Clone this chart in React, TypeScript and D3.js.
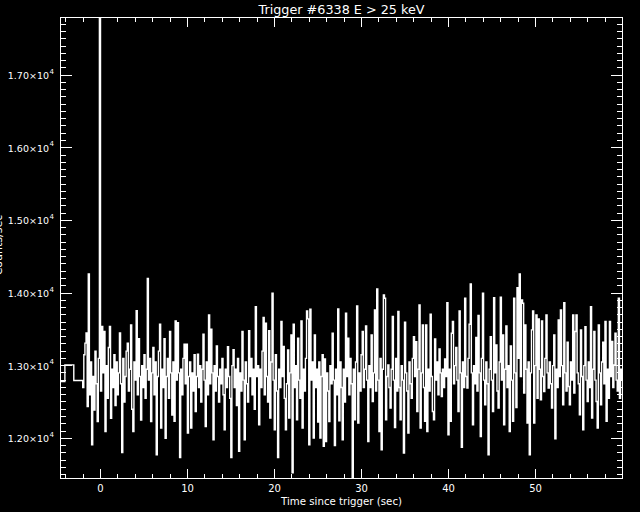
import React from "react";
import * as d3 from "d3";

const titleText = "Trigger #6338 E > 25 keV";
const xTitle = "Time since trigger (sec)";
const yTitle = "Counts/sec";

const coarseStart = [-5.12, -4.096, -3.072];
const coarseRate = [12780, 13010, 12795];
const fineStart = -2.048;
const fineWidth = 0.128;

const fineRateA = [
  12700,13150,13310,13450,12437,14263,12600,13050,11910,12850,
  12390,13200,12750,12230,13100,17794,12650,13540,12900,13470,
  12094,13000,12550,13250,13540,12275,12950,12700,13150,12450,
  13050,12600,12900,13450,12750,11805,13100,12500,12850,13200,
  13310,12650,12950,13560,12400,12094,13050,12800,13758,12600,
  13370,12850,12250,13000,12700,13150,12550,12950,14200,12800,
  13100,12230,12900,13250,12600,13050,11773,12850,13200,13570,
  12140,12950,12700,13370,12000,12850,13100,12550,13470,12900,
  12320,13050,12232,13616,
];
const fineRateB = [
  12800,13593,12900,11736,12950,12600,13100,13295,12750,13295,
  12071,12850,13050,12140,12900,12650,13150,12369,12850,13158,
  12700,13000,12500,12950,13433,12800,12163,13050,12600,13699,
  12750,13502,12900,11980,13000,12650,13272,12850,12500,12950,
  12750,13100,12600,12117,12950,12700,13260,12850,12550,11736,
  13000,13220,12700,12950,12450,13100,11819,12900,12650,13470,
  12800,11980,13050,12750,12500,13480,12850,13100,12600,12950,
  12400,13813,12850,13000,12185,12950,12700,13200,13662,12600,
  13584,12850,12500,13480,12277,13050,13997,12800,12117,13150,
  12650,11736,12950,12700,13607,12850,13263,12550,12117,12750,
];
const fineRateC = [
  13217,12277,12900,13424,11525,13570,12700,13000,12255,13378,
  12800,12550,13616,12140,12950,12650,13100,13754,13644,11910,
  13777,12800,13050,12002,13424,12700,12950,12222,13050,12002,
  12850,13150,11888,13093,11956,12900,12650,12231,13000,12750,
  13447,12800,11900,12950,12600,13781,12240,13050,12700,11980,
  12950,12500,13722,12850,13378,12600,13100,12750,11446,12950,
  12255,13050,13822,12209,12900,12650,13150,13470,12700,12950,
  13547,12800,11956,13000,12700,13424,12507,12900,13768,12650,
  14056,12800,12094,13100,11841,12950,13974,13928,12255,12850,
  13011,12700,12415,12950,13676,12800,12149,13100,12650,13745,
];
const fineRateD = [
  12700,12255,13000,12800,11796,13598,12900,12650,12071,13050,
  12750,12552,13100,13400,12850,13331,12369,12950,13836,12140,
  12900,13561,12700,12232,13561,12094,12950,12650,13708,12850,
  12369,12255,13369,12800,13050,12600,13231,12900,12575,12950,
  12700,13093,12850,13868,12048,12950,12232,13446,13607,12750,
  13000,13249,12800,12369,13754,12900,11874,13050,12700,13928,
  12850,12690,13100,13570,14125,12900,12186,13000,12750,13387,
  12650,13690,12900,12025,13100,13997,12800,12460,13050,12750,
  11773,12950,13400,12800,12369,13937,12900,13286,12650,12415,
  13050,13941,12800,13424,12186,12950,13547,12700,13000,12094,
];
const fineRateE = [
  13272,12800,12232,13928,12900,12424,14075,13100,14263,12850,
  13905,13859,12621,13561,12950,12209,13050,11773,12900,13492,
  13754,12209,13000,13699,12552,13644,12950,12529,13616,12850,
  12644,13100,13699,12900,12690,13050,12750,12415,13000,13424,
  11993,12950,12700,13630,12850,13768,13000,12460,13868,12900,
  12650,13322,12713,12460,13050,12800,13699,12621,13470,13699,
  12900,12750,12323,13492,12850,12117,13000,13538,12800,12507,
  13050,12700,13813,12277,12950,13470,12800,12507,12140,13561,
  12900,12460,13050,13322,12750,13607,12232,12950,12552,13607,
  12850,13332,12700,13011,13446,12800,12650,13928,12552,12950,
  12800,
];

const xDomain = [-4.6, 60.0];
const yDomain = [11446, 17794];
const xMajorTicks = [0, 10, 20, 30, 40, 50];
const xTickLabels = ["0", "10", "20", "30", "40", "50"];
const yMajorTicks = [12000, 13000, 14000, 15000, 16000, 17000];
const yTickLabels = ["1.20", "1.30", "1.40", "1.50", "1.60", "1.70"];

const W = 640, H = 512;
const L = 60.5, R = 622.5, T = 17.5, B = 478.5;

export default function App() {
  const x = d3.scaleLinear().domain(xDomain).range([L, R]);
  const y = d3.scaleLinear().domain(yDomain).range([B, T]);

  const fine = [...fineRateA, ...fineRateB, ...fineRateC, ...fineRateD, ...fineRateE];
  const pts: { t: number; v: number }[] = [];
  coarseStart.forEach((t, i) => pts.push({ t, v: coarseRate[i] }));
  fine.forEach((v, i) => pts.push({ t: fineStart + i * fineWidth, v }));
  pts.push({ t: fineStart + fine.length * fineWidth, v: fine[fine.length - 1] });

  const line = d3
    .line<{ t: number; v: number }>()
    .x((d) => x(d.t))
    .y((d) => y(d.v))
    .curve(d3.curveStepAfter);

  const xMinor = d3.range(-4, 61, 2).filter((t) => t % 10 !== 0 && x(t) > L + 0.5 && x(t) < R - 0.5);
  const yMinor = d3.range(11500, 17800, 100).filter((v) => v % 1000 !== 0);

  const xMaj = 9.2, xMin = 4.6, yMaj = 11.2, yMin = 5.6;
  const font = "'DejaVu Sans', 'Liberation Sans', sans-serif";

  return (
    <svg
      width={W}
      height={H}
      style={{ position: "absolute", left: 0, top: 0, background: "#000" }}
    >
      <rect x={0} y={0} width={W} height={H} fill="#000" />
      <defs>
        <clipPath id="plotclip">
          <rect x={L} y={T - 0.5} width={R - L} height={B - T + 1} />
        </clipPath>
      </defs>
      <g clipPath="url(#plotclip)">
        <path d={line(pts) || ""} fill="none" stroke="#fff" strokeWidth={1.4} strokeLinejoin="miter" />
      </g>
      <g stroke="#fff" strokeWidth={1} shapeRendering="crispEdges">
        <rect x={L} y={T} width={R - L} height={B - T} fill="none" />
        {xMajorTicks.map((t) => (
          <g key={"xm" + t}>
            <line x1={x(t)} x2={x(t)} y1={B} y2={B - xMaj} />
            <line x1={x(t)} x2={x(t)} y1={T} y2={T + xMaj} />
          </g>
        ))}
        {xMinor.map((t) => (
          <g key={"xn" + t}>
            <line x1={x(t)} x2={x(t)} y1={B} y2={B - xMin} />
            <line x1={x(t)} x2={x(t)} y1={T} y2={T + xMin} />
          </g>
        ))}
        {yMajorTicks.map((v) => (
          <g key={"ym" + v}>
            <line x1={L} x2={L + yMaj} y1={y(v)} y2={y(v)} />
            <line x1={R} x2={R - yMaj} y1={y(v)} y2={y(v)} />
          </g>
        ))}
        {yMinor.map((v) => (
          <g key={"yn" + v}>
            <line x1={L} x2={L + yMin} y1={y(v)} y2={y(v)} />
            <line x1={R} x2={R - yMin} y1={y(v)} y2={y(v)} />
          </g>
        ))}
      </g>
      <g fill="#fff" fontFamily={font}>
        <text x={(L + R) / 2} y={14} textAnchor="middle" fontSize={12} textLength={166} lengthAdjust="spacingAndGlyphs">
          {titleText}
        </text>
        {xMajorTicks.map((t, i) => (
          <text key={"xl" + t} x={x(t)} y={492} textAnchor="middle" fontSize={10}>
            {xTickLabels[i]}
          </text>
        ))}
        <text x={(L + R) / 2} y={505} textAnchor="middle" fontSize={10} textLength={121} lengthAdjust="spacingAndGlyphs">
          {xTitle}
        </text>
        {yMajorTicks.map((v, i) => (
          <text key={"yl" + v} x={49} y={y(v) + 4} textAnchor="end" fontSize={9.5}>
            {yTickLabels[i]}×10
          </text>
        ))}
        {yMajorTicks.map((v) => (
          <text key={"ye" + v} x={49.5} y={y(v) - 1.5} fontSize={7}>
            4
          </text>
        ))}
        <text transform="translate(2,245) rotate(-90)" textAnchor="middle" fontSize={11}>
          {yTitle}
        </text>
      </g>
    </svg>
  );
}
